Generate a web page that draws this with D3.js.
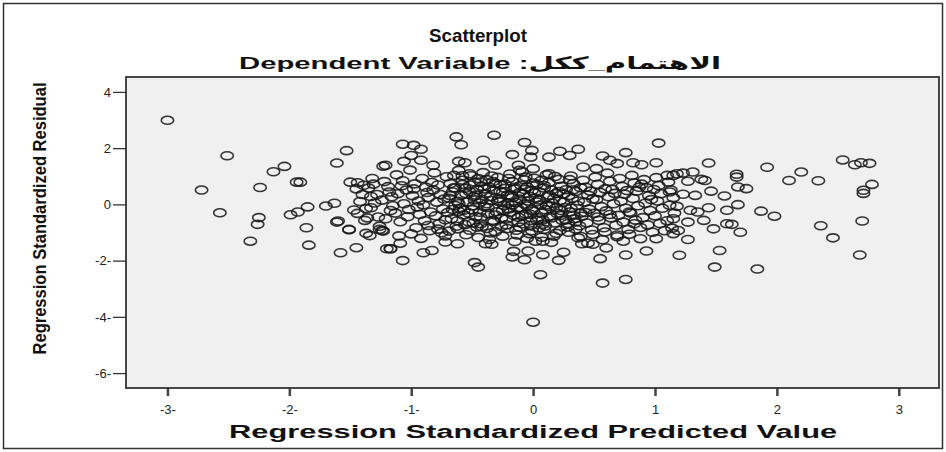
<!DOCTYPE html>
<html>
<head>
<meta charset="utf-8">
<script src="https://cdn.jsdelivr.net/npm/d3@7"></script>
<style>
  body { margin: 0; background: #fff; }
  svg { display: block; }
</style>
</head>
<body>
<div id="scatter"></div>
<script>
// tick values + labels (SPSS style, as in the picture)
var xTicks = [-3, -2, -1, 0, 1, 2, 3];
var xTickLabels = ["-3-", "-2-", "-1-", "0", "1", "2", "3"];
var yTicks = [4, 2, 0, -2, -4, -6];
var yTickLabels = ["4", "2", "0", "-2-", "-4-", "-6-"];

// [predicted, residual]
var leftPoints = [
  [-3.00, 2.99], [-2.72, 0.51], [-2.57, -0.30], [-2.51, 1.73], [-2.32, -1.31],
  [-2.26, -0.71], [-2.25, -0.47], [-2.24, 0.60], [-2.13, 1.16], [-2.04, 1.35],
  [-1.99, -0.37], [-1.94, 0.79], [-1.91, 0.79], [-1.93, -0.27], [-1.85, -0.09],
  [-1.86, -0.83], [-1.84, -1.45], [-1.70, -0.06], [-1.63, 0.04], [-1.61, 1.47],
  [-1.61, -0.63], [-1.60, -0.59], [-1.58, -1.72], [-1.53, 1.91], [-1.51, -0.89],
  [-1.51, -0.90], [-1.50, 0.79], [-1.45, -1.54], [-1.44, 0.77], [-1.38, -0.57],
  [-1.37, -1.03], [-1.34, -1.11], [-1.26, -0.89], [-1.24, -0.93], [-1.23, 1.36],
  [-1.20, -1.58], [-1.21, 1.39], [-1.17, -1.58], [-1.09, -1.38], [-1.07, -2.00],
  [-1.45, 0.55], [-1.40, 0.35], [-1.42, 0.10], [-1.37, -0.15], [-1.44, -0.32],
  [-1.39, 0.68], [-1.33, 0.28], [-1.36, -0.48], [-1.47, -0.20]
];

var topPoints = [
  [-1.07, 2.14], [-0.98, 2.10], [-0.92, 1.96], [-1.00, 1.74], [-1.06, 1.53],
  [-0.92, 1.57], [-0.82, 1.39], [-0.63, 2.40], [-0.59, 2.12], [-0.32, 2.46],
  [-0.61, 1.53], [-0.56, 1.48], [-0.41, 1.57], [-0.31, 1.39], [-0.17, 1.77],
  [-0.07, 2.20], [-0.01, 1.92], [-0.02, 1.68], [-0.12, 1.39], [-0.11, 1.21],
  [0.00, 1.27], [0.13, 1.09], [0.13, 1.68], [0.22, 1.89], [0.30, 1.74],
  [0.37, 1.96], [0.41, 1.33], [0.52, 1.27], [0.57, 1.72], [0.63, 1.57],
  [0.69, 1.45], [0.76, 1.84], [0.82, 1.48], [0.89, 1.41], [1.01, 1.48],
  [1.03, 2.18], [1.10, 1.03], [1.18, 1.09], [-0.65, 1.03], [-0.52, 1.09],
  [-0.43, 0.79]
];

var corePoints = [
  [-1.31, 0.72], [-1.28, 0.35], [-1.33, -0.12], [-1.27, -0.45], [-1.30, 0.05], [-1.35, 0.58], [-1.26, -0.78], [-1.32, 0.92],
  [-1.22, 0.81], [-1.18, 0.44], [-1.24, 0.15], [-1.17, -0.22], [-1.21, -0.51], [-1.19, 0.63], [-1.15, -0.05], [-1.23, -0.95], [-1.16, 0.27],
  [-1.12, 1.05], [-1.08, 0.66], [-1.11, 0.38], [-1.06, 0.02], [-1.13, -0.31], [-1.09, -0.62], [-1.04, 0.51], [-1.10, -1.12], [-1.07, 0.84], [-1.02, -0.18],
  [-1.01, 1.22], [-0.97, 0.73], [-0.99, 0.31], [-0.95, -0.09], [-1.03, -0.44], [-0.96, -0.83], [-0.98, 0.55], [-0.94, 0.12], [-1.00, -1.05], [-0.93, -0.36],
  [-0.91, 0.92], [-0.88, 0.61], [-0.86, 0.24], [-0.90, -0.02], [-0.84, -0.27], [-0.89, -0.58], [-0.85, -0.94], [-0.87, 0.42], [-0.92, -1.21], [-0.83, 0.78], [-0.86, -0.75],
  [-0.81, 1.12], [-0.78, 0.69], [-0.76, 0.35], [-0.79, 0.08], [-0.74, -0.16], [-0.80, -0.41], [-0.77, -0.69], [-0.75, -1.01], [-0.82, 0.51], [-0.73, 0.19], [-0.78, -0.88], [-0.72, -0.55],
  [-0.71, 0.98], [-0.68, 0.74], [-0.66, 0.44], [-0.69, 0.22], [-0.64, -0.04], [-0.70, -0.29], [-0.67, -0.51], [-0.63, -0.78], [-0.72, -1.12], [-0.65, 0.59], [-0.62, 0.11], [-0.69, -0.95], [-0.66, -0.18],
  [-0.61, 1.21], [-0.58, 0.86], [-0.56, 0.57], [-0.59, 0.33], [-0.54, 0.09], [-0.60, -0.14], [-0.57, -0.38], [-0.53, -0.62], [-0.62, -0.87], [-0.55, -1.08], [-0.52, 0.45], [-0.58, 0.71], [-0.61, -0.25], [-0.56, -0.72],
  [-0.51, 1.02], [-0.48, 0.79], [-0.46, 0.52], [-0.49, 0.28], [-0.44, 0.05], [-0.50, -0.19], [-0.47, -0.44], [-0.43, -0.69], [-0.52, -0.92], [-0.45, -1.18], [-0.42, 0.64], [-0.48, 0.16], [-0.53, -0.31], [-0.46, -0.81],
  [-0.41, 1.13], [-0.38, 0.88], [-0.36, 0.61], [-0.39, 0.38], [-0.34, 0.14], [-0.40, -0.08], [-0.37, -0.33], [-0.33, -0.57], [-0.42, -0.79], [-0.35, -1.02], [-0.32, 0.49], [-0.38, 0.02], [-0.43, -0.46], [-0.36, -1.25], [-0.31, 0.74],
  [-0.29, 0.96], [-0.27, 0.69], [-0.25, 0.43], [-0.28, 0.21], [-0.24, -0.03], [-0.30, -0.26], [-0.26, -0.49], [-0.22, -0.73], [-0.31, -0.97], [-0.23, 0.57], [-0.27, 0.09], [-0.32, -0.61], [-0.25, -1.13], [-0.21, 0.33],
  [-0.19, 1.08], [-0.17, 0.81], [-0.15, 0.55], [-0.18, 0.31], [-0.14, 0.07], [-0.20, -0.16], [-0.16, -0.39], [-0.12, -0.63], [-0.21, -0.86], [-0.13, -1.09], [-0.11, 0.42], [-0.17, -0.02], [-0.22, -0.52], [-0.15, -1.32], [-0.10, 0.68],
  [-0.09, 1.16], [-0.07, 0.87], [-0.05, 0.62], [-0.08, 0.37], [-0.04, 0.12], [-0.10, -0.11], [-0.06, -0.34], [-0.02, -0.58], [-0.11, -0.81], [-0.03, -1.04], [-0.01, 0.49], [-0.07, 0.01], [-0.12, -0.46], [-0.05, -1.21], [0.00, 0.76], [-0.08, -0.69],
  [0.01, 0.93], [0.03, 0.71], [0.05, 0.44], [0.02, 0.22], [0.06, -0.02], [0.00, -0.24], [0.04, -0.47], [0.08, -0.71], [-0.01, -0.94], [0.07, -1.17], [0.09, 0.58], [0.03, 0.09], [-0.02, -0.36], [0.05, -0.83],
  [0.11, 1.05], [0.13, 0.78], [0.15, 0.51], [0.12, 0.29], [0.16, 0.04], [0.10, -0.19], [0.14, -0.42], [0.18, -0.66], [0.09, -0.89], [0.17, -1.13], [0.19, 0.39], [0.13, -0.07], [0.08, -0.55], [0.15, -1.35],
  [0.21, 0.89], [0.23, 0.64], [0.25, 0.37], [0.22, 0.13], [0.26, -0.11], [0.20, -0.33], [0.24, -0.57], [0.28, -0.81], [0.19, -1.03], [0.27, 0.52], [0.23, -0.22], [0.29, -0.68],
  [0.31, 1.01], [0.33, 0.74], [0.35, 0.46], [0.32, 0.21], [0.36, -0.03], [0.30, -0.27], [0.34, -0.51], [0.38, -0.76], [0.29, -0.99], [0.37, -1.19], [0.39, 0.59], [0.33, -0.39],
  [0.41, 0.86], [0.43, 0.61], [0.45, 0.33], [0.42, 0.08], [0.46, -0.17], [0.40, -0.42], [0.44, -0.66], [0.48, -0.91], [0.39, -1.14], [0.47, 0.47], [0.43, -0.29], [0.49, 0.19],
  [0.51, 0.97], [0.53, 0.71], [0.55, 0.42], [0.52, 0.17], [0.56, -0.08], [0.50, -0.32], [0.54, -0.57], [0.58, -0.83], [0.49, -1.07], [0.57, -1.26], [0.59, 0.55], [0.53, -0.45],
  [0.61, 1.11], [0.63, 0.82], [0.65, 0.53], [0.62, 0.27], [0.66, 0.02], [0.60, -0.23], [0.64, -0.48], [0.68, -0.74], [0.59, -0.98], [0.67, 0.39], [0.63, -0.36], [0.69, -1.15],
  [0.71, 0.92], [0.73, 0.64], [0.75, 0.36], [0.72, 0.11], [0.76, -0.14], [0.70, -0.39], [0.74, -0.63], [0.78, -0.89], [0.69, -1.09], [0.77, 0.49], [0.79, -0.27],
  [0.81, 1.03], [0.83, 0.76], [0.85, 0.47], [0.82, 0.21], [0.86, -0.05], [0.80, -0.31], [0.84, -0.56], [0.88, -0.82], [0.79, -1.06], [0.87, 0.61], [0.83, -0.69],
  [0.91, 0.88], [0.93, 0.59], [0.95, 0.31], [0.92, 0.04], [0.96, -0.22], [0.90, -0.47], [0.94, -0.73], [0.98, -0.99], [0.89, 0.72], [0.97, 0.17],
  [1.01, 0.95], [1.03, 0.67], [1.05, 0.38], [1.02, 0.12], [1.06, -0.14], [1.00, -0.41], [1.04, -0.68], [1.08, -0.94], [0.99, 0.53],
  [1.11, 0.79], [1.13, 0.51], [1.15, 0.24], [1.12, -0.03], [1.16, -0.31], [1.10, -0.58], [1.14, -0.85]
];

// the darkest, most crowded middle of the cloud
var densePoints = [
  [-0.68, 0.31], [-0.64, 0.58], [-0.61, 0.02], [-0.57, -0.21], [-0.55, 0.38], [-0.52, 0.69], [-0.49, -0.05], [-0.47, 0.33],
  [-0.44, -0.28], [-0.42, 0.18], [-0.40, 0.55], [-0.37, -0.12], [-0.35, 0.27], [-0.33, 0.81], [-0.31, -0.38], [-0.29, 0.12],
  [-0.27, 0.46], [-0.25, -0.21], [-0.23, 0.72], [-0.21, 0.04], [-0.19, -0.29], [-0.17, 0.24], [-0.15, 0.61], [-0.13, -0.14],
  [-0.11, 0.19], [-0.09, -0.41], [-0.07, 0.53], [-0.05, -0.06], [-0.03, 0.29], [-0.01, -0.18], [0.01, 0.41], [0.03, -0.57],
  [0.05, 0.16], [0.07, -0.31], [0.09, 0.67], [0.11, -0.02], [0.13, 0.33], [0.15, -0.48], [0.17, 0.21], [0.19, -0.12],
  [0.21, 0.46], [0.23, -0.39], [0.25, 0.08], [0.27, -0.55], [0.29, 0.31], [0.31, -0.14], [0.33, 0.52], [0.35, -0.63],
  [0.37, 0.12], [0.39, -0.31], [-0.58, 1.02], [-0.45, 0.92], [-0.34, 1.01], [-0.20, 0.92], [-0.06, 0.97], [0.07, 0.86],
  [0.18, 0.99], [0.30, 0.88], [-0.62, -0.58], [-0.49, -0.66], [-0.38, -0.86], [-0.26, -0.79], [-0.14, -0.92], [-0.02, -0.74],
  [0.10, -0.77], [0.22, -0.93], [0.35, -0.88]
];

var lowPoints = [
  [-1.17, -1.58], [-0.90, -1.72], [-0.83, -1.64], [-0.72, -1.34], [-0.62, -1.40],
  [-0.48, -2.07], [-0.45, -2.23], [-0.39, -1.40], [-0.34, -1.42], [-0.17, -1.87],
  [-0.16, -1.67], [-0.07, -1.97], [-0.04, -1.66], [0.02, -1.31], [0.08, -1.31],
  [0.08, -1.79], [0.06, -2.50], [0.00, -4.19], [0.21, -1.99], [0.25, -1.70],
  [0.40, -1.40], [0.45, -1.38], [0.49, -1.42], [0.55, -1.93], [0.57, -2.80],
  [0.60, -1.55], [0.74, -1.31], [0.76, -1.80], [0.76, -2.67], [0.88, -1.22],
  [0.93, -1.66], [1.01, -1.22], [1.15, -1.04]
];

var rightPoints = [
  [1.15, 1.03], [1.23, 1.11], [1.31, 1.15], [1.27, 0.82], [1.38, 0.89],
  [1.41, 0.85], [1.44, 1.47], [1.23, 0.36], [1.33, 0.32], [1.12, 0.44],
  [1.18, -0.07], [1.29, -0.21], [1.35, -0.27], [1.44, -0.12], [1.27, -0.63],
  [1.40, -0.57], [1.15, -0.51], [1.19, -0.93], [1.27, -1.25], [1.20, -1.81],
  [1.46, 0.47], [1.57, 0.30], [1.59, -0.21], [1.48, -0.87], [1.59, -0.69],
  [1.63, -0.71], [1.70, -0.99], [1.53, -1.64], [1.49, -2.23], [1.84, -2.30],
  [1.67, 1.07], [1.67, 0.97], [1.68, 0.62], [1.75, 0.56], [1.68, -0.01],
  [1.87, -0.24], [1.98, -0.42], [1.92, 1.32], [2.10, 0.85], [2.20, 1.15],
  [2.34, 0.84], [2.36, -0.76], [2.46, -1.19], [2.54, 1.58], [2.64, 1.41],
  [2.69, 1.48], [2.76, 1.46], [2.78, 0.71], [2.71, 0.50], [2.71, 0.39],
  [2.70, -0.59], [2.68, -1.80]
];

var allPoints = leftPoints.concat(topPoints, corePoints, densePoints, lowPoints, rightPoints);

var svgWidth = 946;
var svgHeight = 452;
var margin = { top: 77, right: 7, bottom: 64, left: 126 };
var width = svgWidth - margin.left - margin.right;
var height = svgHeight - margin.top - margin.bottom;

var svg = d3.select("#scatter")
  .append("svg")
  .attr("width", svgWidth)
  .attr("height", svgHeight);

// outer frame
svg.append("rect")
  .attr("x", 3.5).attr("y", 3.5)
  .attr("width", svgWidth - 7).attr("height", svgHeight - 7)
  .attr("fill", "#fff")
  .attr("stroke", "#333")
  .attr("stroke-width", 1.5);

// titles
svg.append("text")
  .attr("x", 478).attr("y", 42)
  .attr("text-anchor", "middle")
  .attr("textLength", 98)
  .attr("lengthAdjust", "spacingAndGlyphs")
  .style("font-family", "Arial, 'Liberation Sans', sans-serif")
  .style("font-weight", "bold")
  .style("font-size", "19px")
  .attr("fill", "#111")
  .text("Scatterplot");

svg.append("text")
  .attr("x", 480).attr("y", 69)
  .attr("text-anchor", "middle")
  .attr("textLength", 482)
  .attr("lengthAdjust", "spacingAndGlyphs")
  .style("font-family", "Arial, 'Liberation Sans', 'DejaVu Sans', sans-serif")
  .style("font-weight", "bold")
  .style("font-size", "17px")
  .attr("fill", "#111")
  .text("Dependent Variable :الاهتمام_ككل");

var chartGroup = svg.append("g")
  .attr("transform", `translate(${margin.left}, ${margin.top})`);

var xScale = d3.scaleLinear()
  .domain([-3.34, 3.33])
  .range([0, width]);

var yScale = d3.scaleLinear()
  .domain([-6.53, 4.53])
  .range([height, 0]);

// plot background
chartGroup.append("rect")
  .attr("width", width)
  .attr("height", height)
  .attr("fill", "#f0f0f0");

// axes
var bottomAxis = d3.axisBottom(xScale)
  .tickValues(xTicks)
  .tickSize(8)
  .tickFormat((d, i) => xTickLabels[i]);

var leftAxis = d3.axisLeft(yScale)
  .tickValues(yTicks)
  .tickSize(13)
  .tickFormat((d, i) => yTickLabels[i]);

var xAxisG = chartGroup.append("g")
  .attr("transform", `translate(0, ${height})`)
  .call(bottomAxis);

var yAxisG = chartGroup.append("g")
  .call(leftAxis);

[xAxisG, yAxisG].forEach(function(g) {
  g.select(".domain").remove();
  g.selectAll("text")
    .style("font-family", "Arial, 'Liberation Sans', sans-serif")
    .style("font-size", "13px")
    .attr("fill", "#222");
});
xAxisG.selectAll("line").attr("stroke", "#444").attr("stroke-width", 2.5);
xAxisG.selectAll("text").attr("dy", "1.15em");
yAxisG.selectAll("line").attr("stroke", "#333").attr("stroke-width", 1.3);
yAxisG.selectAll("text").attr("x", -15);

// points (open circles)
chartGroup.append("g")
  .selectAll("ellipse")
  .data(allPoints)
  .enter()
  .append("ellipse")
  .attr("cx", d => xScale(d[0]))
  .attr("cy", d => yScale(d[1]))
  .attr("rx", 6.2)
  .attr("ry", 4)
  .attr("fill", "none")
  .attr("stroke", "#151515")
  .attr("stroke-opacity", 0.85)
  .attr("stroke-width", 1.6);

// plot border
chartGroup.append("rect")
  .attr("width", width)
  .attr("height", height)
  .attr("fill", "none")
  .attr("stroke", "#333")
  .attr("stroke-width", 1.8);

// axis labels
chartGroup.append("text")
  .attr("transform", "rotate(-90)")
  .attr("x", -(height / 2) + 14)
  .attr("y", 46 - margin.left)
  .attr("text-anchor", "middle")
  .attr("textLength", 272)
  .attr("lengthAdjust", "spacingAndGlyphs")
  .style("font-family", "'Liberation Sans Narrow', 'Arial Narrow', Arial, sans-serif")
  .style("font-weight", "bold")
  .style("font-size", "19px")
  .attr("fill", "#111")
  .text("Regression Standardized Residual");

chartGroup.append("text")
  .attr("x", xScale(0))
  .attr("y", height + 50)
  .attr("text-anchor", "middle")
  .attr("textLength", 608)
  .attr("lengthAdjust", "spacingAndGlyphs")
  .style("font-family", "Arial, 'Liberation Sans', sans-serif")
  .style("font-weight", "bold")
  .style("font-size", "18px")
  .attr("fill", "#111")
  .text("Regression Standardized Predicted Value");
</script>
</body>
</html>
